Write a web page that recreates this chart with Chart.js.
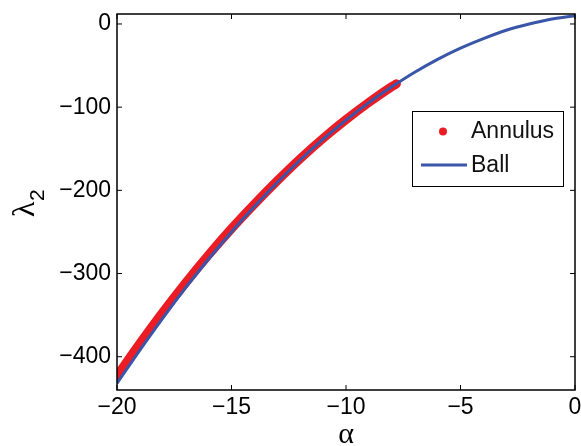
<!DOCTYPE html>
<html>
<head>
<meta charset="utf-8">
<script src="https://cdn.jsdelivr.net/npm/chart.js@4"></script>
<style>
  html, body { margin: 0; padding: 0; background: #fff; }
  #wrap { width: 581px; height: 446px; }
</style>
</head>
<body>
<div id="wrap"><canvas id="c" width="581" height="446"></canvas></div>
<script>
// Ball curve
const ballAlpha = [-20, -19, -18, -17, -16, -15, -14, -13, -12, -11, -10, -9, -8, -7, -6, -5, -4, -3, -2, -1, 0];
const ballLambda = [-432, -392, -353.5, -317, -282.5, -250, -219.5, -190.5, -163.5, -138.5, -115.5, -94.5, -75.5, -58, -42.5, -29, -17.5, -7.5, 0, 6, 10];

// Annulus points
const annAlpha = [-20, -19, -18, -17, -16, -15, -14, -13, -12, -11, -10, -9, -8, -7.8];
const annLambda = [-423, -384, -346.5, -311, -277.5, -246, -216.5, -188.5, -162, -137.5, -115, -94.3, -75.3, -72];

const xTicks = [-20, -15, -10, -5, 0];
const yTicks = [-400, -300, -200, -100, 0];

const RED = '#ec1c24';
const BLUE = '#3a56a8';
const FONT = "'Liberation Sans', Arial, sans-serif";
const SERIF = "'Liberation Serif', 'Times New Roman', serif";

const toPts = (xs, ys) => xs.map((x, i) => ({ x: x, y: ys[i] }));
const minus = (v) => String(v).replace('-', '\u2212');

// frame, inward ticks, axis titles, legend box
const decorations = {
  id: 'decorations',
  afterDraw(chart) {
    const ctx = chart.ctx;
    const a = chart.chartArea;
    const xs = chart.scales.x, ys = chart.scales.y;
    ctx.save();
    ctx.strokeStyle = '#000';
    ctx.lineWidth = 1.5;
    ctx.strokeRect(a.left, a.top, a.right - a.left, a.bottom - a.top);
    ctx.lineWidth = 1;
    ctx.beginPath();
    xTicks.forEach(t => {
      const px = xs.getPixelForValue(t);
      ctx.moveTo(px, a.bottom); ctx.lineTo(px, a.bottom - 5);
      ctx.moveTo(px, a.top); ctx.lineTo(px, a.top + 5);
    });
    yTicks.forEach(t => {
      const py = ys.getPixelForValue(t);
      ctx.moveTo(a.left, py); ctx.lineTo(a.left + 5, py);
      ctx.moveTo(a.right, py); ctx.lineTo(a.right - 5, py);
    });
    ctx.stroke();

    // x title
    ctx.fillStyle = '#000';
    ctx.font = '30px ' + SERIF;
    ctx.textAlign = 'center';
    ctx.textBaseline = 'alphabetic';
    ctx.fillText('\u03b1', (a.left + a.right) / 2, 443);

    // y title: lambda with subscript 2
    ctx.save();
    ctx.translate(34, 203);
    ctx.rotate(-Math.PI / 2);
    ctx.textAlign = 'left';
    ctx.font = '32px ' + SERIF;
    ctx.fillText('\u03bb', -14, 0);
    ctx.font = '21px ' + FONT;
    ctx.fillText('2', 2, 10);
    ctx.restore();

    // legend
    const lx = 412, ly = 111, lw = 151, lh = 75;
    ctx.fillStyle = '#fff';
    ctx.fillRect(lx, ly, lw, lh);
    ctx.strokeStyle = '#000';
    ctx.lineWidth = 1;
    ctx.strokeRect(lx + 0.5, ly + 0.5, lw, lh);
    const ds = chart.data.datasets;
    const ann = ds.find(d => d.label === 'Annulus');
    const ball = ds.find(d => d.label === 'Ball');
    ctx.fillStyle = ann.borderColor;
    ctx.beginPath();
    ctx.arc(443, 131.5, 4, 0, Math.PI * 2);
    ctx.fill();
    ctx.strokeStyle = ball.borderColor;
    ctx.lineWidth = 3;
    ctx.beginPath();
    ctx.moveTo(421, 165); ctx.lineTo(467, 165);
    ctx.stroke();
    ctx.fillStyle = '#111';
    ctx.font = '23px ' + FONT;
    ctx.textAlign = 'left';
    ctx.textBaseline = 'middle';
    ctx.fillText(ann.label, 471, 132);
    ctx.fillText(ball.label, 471, 166);
    ctx.restore();
  }
};

new Chart(document.getElementById('c').getContext('2d'), {
  type: 'scatter',
  data: {
    datasets: [
      {
        label: 'Annulus',
        data: toPts(annAlpha, annLambda),
        showLine: true,
        borderColor: RED,
        backgroundColor: RED,
        borderWidth: 9,
        borderCapStyle: 'round',
        borderJoinStyle: 'round',
        cubicInterpolationMode: 'monotone',
        pointRadius: 0,
        order: 1,
      },
      {
        label: 'Ball',
        data: toPts(ballAlpha, ballLambda),
        showLine: true,
        borderColor: BLUE,
        backgroundColor: BLUE,
        borderWidth: 3,
        cubicInterpolationMode: 'monotone',
        pointRadius: 0,
        order: 0,
      },
    ],
  },
  options: {
    responsive: false,
    animation: false,
    layout: { padding: { top: 14, right: 0, left: 0, bottom: 0 } },
    scales: {
      x: {
        type: 'linear',
        min: -20,
        max: 0,
        afterBuildTicks: (s) => { s.ticks = xTicks.map(v => ({ value: v })); },
        afterFit: (s) => { s.height = 56; s.paddingLeft = 0; s.paddingRight = 6; },
        ticks: {
          color: '#000',
          font: { family: FONT, size: 23 },
          padding: 4,
          maxRotation: 0,
          callback: (v) => minus(v),
        },
        grid: { display: false, drawTicks: false },
        border: { display: false },
      },
      y: {
        type: 'linear',
        min: -440,
        max: 12,
        afterBuildTicks: (s) => { s.ticks = yTicks.map(v => ({ value: v })); },
        afterFit: (s) => { s.width = 117; s.paddingTop = 0; s.paddingBottom = 0; },
        ticks: {
          color: '#000',
          font: { family: FONT, size: 23 },
          padding: 6,
          callback: (v) => minus(v),
        },
        grid: { display: false, drawTicks: false },
        border: { display: false },
      },
    },
    plugins: {
      legend: { display: false },
      tooltip: { enabled: false },
    },
  },
  plugins: [decorations],
});
</script>
</body>
</html>
